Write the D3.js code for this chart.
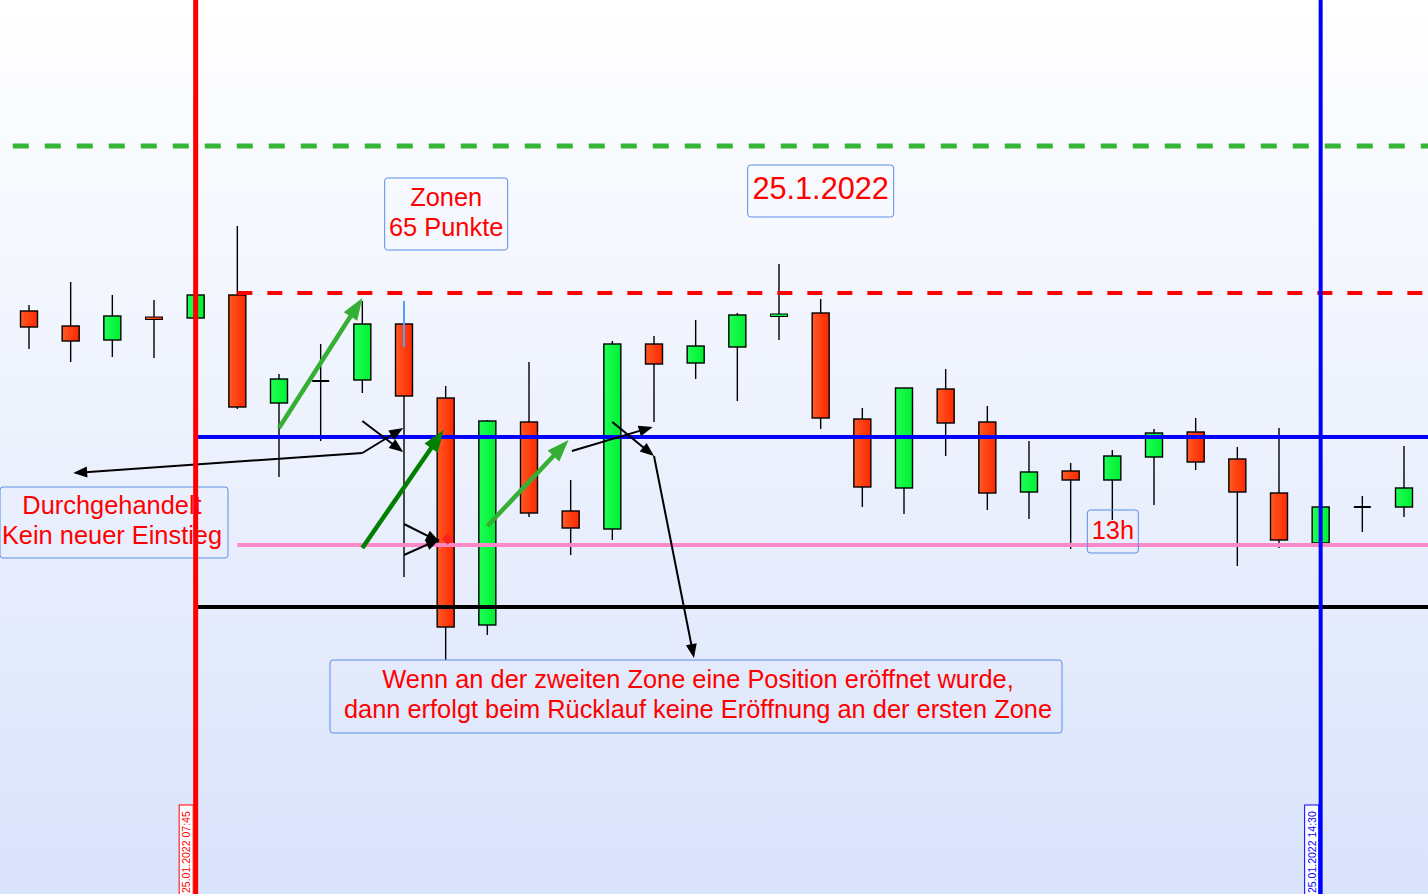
<!DOCTYPE html>
<html><head><meta charset="utf-8">
<script src="https://cdn.jsdelivr.net/npm/d3@7"></script>
<style>html,body{margin:0;padding:0;overflow:hidden;background:#fff}</style>
</head><body><svg id="c" width="1428" height="894"></svg>
<script>
// 15-minute candles, 25.01.2022
const times = ["06:45","07:00","07:15","07:30","07:45","08:00","08:15","08:30","08:45","09:00","09:15","09:30","09:45","10:00","10:15","10:30","10:45","11:00","11:15","11:30","11:45","12:00","12:15","12:30","12:45","13:00","13:15","13:30","13:45","14:00","14:15","14:30","14:45","15:00"];
const opens  = [583,568,554,577,576,599,491,513,514,570,496,269,472,383,365,550,531,547,578,581,475,406,505,472,402,423,414,437,462,435,401,351,387,387];
const highs  = [589,612,599,594,599,668,520,550,593,593,508,474,532,414,553,558,574,581,630,595,486,506,525,488,453,431,444,465,476,447,466,387,398,448];
const lows   = [545,532,537,536,576,485,417,453,501,317,234,259,377,339,354,472,515,493,554,465,387,380,438,384,375,345,374,389,424,328,346,351,362,377];
const closes = [567,553,578,575,599,487,515,513,570,498,267,473,381,366,550,530,548,579,580,476,407,506,471,401,422,414,438,461,432,402,354,387,387,406];

// horizontal levels
const levelNames  = ["Ziel","Zone oben","Zone 1","Zone 2","Zone 3"];
const levelValues = [748, 601, 457, 349, 287];
// vertical time markers
const markerTimes  = ["07:45","14:30"];
const markerLabels = ["25.01.2022 07:45","25.01.2022 14:30"];

const W = 1428, H = 894;
const svg = d3.select("#c");
const x = d3.scaleLinear().domain([0, times.length - 1]).range([29, 1404]);
const xt = t => x(times.indexOf(t));
const y = d3.scaleLinear().domain([0, 894]).range([894, 0]);

const defs = svg.append("defs");
const bg = defs.append("linearGradient").attr("id","bg").attr("x1",0).attr("y1",0).attr("x2",0).attr("y2",1);
bg.append("stop").attr("offset","0%").attr("stop-color","#ffffff");
bg.append("stop").attr("offset","100%").attr("stop-color","#d9e3fb");
const gr = defs.append("linearGradient").attr("id","gRed").attr("x1",0).attr("y1",0).attr("x2",1).attr("y2",0);
gr.append("stop").attr("offset","0%").attr("stop-color","#ff5a24");
gr.append("stop").attr("offset","100%").attr("stop-color","#ff2800");
const gg = defs.append("linearGradient").attr("id","gGreen").attr("x1",0).attr("y1",0).attr("x2",1).attr("y2",0);
gg.append("stop").attr("offset","0%").attr("stop-color","#1fff55");
gg.append("stop").attr("offset","100%").attr("stop-color","#00f032");

svg.append("rect").attr("width",W).attr("height",H).attr("fill","url(#bg)");

// candles
const data = times.map((t,i)=>({t,i,o:opens[i],h:highs[i],l:lows[i],c:closes[i]}));
const cw = 17;
const cg = svg.append("g");
cg.selectAll("line.wick").data(data).join("line")
  .attr("x1",d=>x(d.i)).attr("x2",d=>x(d.i))
  .attr("y1",d=>y(d.h)).attr("y2",d=>y(d.l))
  .attr("stroke","#000").attr("stroke-width",1.4);
cg.selectAll("rect.body").data(data.filter(d=>d.o!==d.c)).join("rect")
  .attr("x",d=>x(d.i)-cw/2).attr("width",cw)
  .attr("y",d=>y(Math.max(d.o,d.c))).attr("height",d=>Math.max(2.5,Math.abs(y(d.o)-y(d.c))))
  .attr("fill",d=>d.c>d.o?"url(#gGreen)":"url(#gRed)")
  .attr("stroke","#000").attr("stroke-width",d=>Math.abs(d.o-d.c)<4?1:1.4);
cg.selectAll("line.doji").data(data.filter(d=>d.o===d.c)).join("line")
  .attr("x1",d=>x(d.i)-cw/2).attr("x2",d=>x(d.i)+cw/2)
  .attr("y1",d=>y(d.o)).attr("y2",d=>y(d.o))
  .attr("stroke","#000").attr("stroke-width",2);
// blue marker on candle 09:00 upper wick
svg.append("line").attr("x1",xt("09:00")).attr("x2",xt("09:00"))
  .attr("y1",y(593)).attr("y2",y(547)).attr("stroke","#5a9cf8").attr("stroke-width",2);

// horizontal levels
const levelStyle = [
  {from:-0.39, color:"#35b535", w:5, dash:"16,16"},
  {from:5, color:"#ff0000", w:4, dash:"15,15"},
  {from:4, color:"#0000ff", w:4, dash:null},
  {from:5, color:"#ff88c8", w:4, dash:null},
  {from:4, color:"#000000", w:4, dash:null}
];
levelValues.forEach((v,k)=>{
  const s = levelStyle[k];
  svg.append("line").attr("x1",x(s.from)).attr("x2",W)
    .attr("y1",y(v)).attr("y2",y(v))
    .attr("stroke",s.color).attr("stroke-width",s.w)
    .attr("stroke-dasharray",s.dash);
});

// arrows
function arrow(p0,p1,color,w,hl,hw){
  const X0=x(p0[0]),Y0=y(p0[1]),X1=x(p1[0]),Y1=y(p1[1]);
  const dx=X1-X0,dy=Y1-Y0,L=Math.hypot(dx,dy),ux=dx/L,uy=dy/L;
  const bx=X1-ux*hl,by=Y1-uy*hl;
  svg.append("line").attr("x1",X0).attr("y1",Y0).attr("x2",bx+ux*2).attr("y2",by+uy*2)
    .attr("stroke",color).attr("stroke-width",w);
  svg.append("polygon").attr("points",[[X1,Y1],[bx-uy*hw/2,by+ux*hw/2],[bx+uy*hw/2,by-ux*hw/2]].map(p=>p.join(",")).join(" "))
    .attr("fill",color);
}
arrow([6,466],[8,596],"#35b035",4.5,22,16);
arrow([8,346],[9.95,464],"#008000",4.5,22,16);
arrow([11,368],[12.95,454],"#35b035",4.5,22,16);
arrow([13.03,443],[14.97,467],"#000",2,14,11);
arrow([14,472],[15,438],"#000",2,14,11);
arrow([15,438],[15.96,236],"#000",2,14,11);
arrow([8,473],[8.98,442],"#000",2,14,11);
arrow([8,441],[8.98,466],"#000",2,14,11);
arrow([8,441],[1.06,421],"#000",2,14,11);
arrow([9,370],[9.86,352],"#000",2,14,11);
arrow([9,339],[9.86,355],"#000",2,14,11);
svg.append("rect").attr("x",x(10)-2).attr("y",y(354)-5).attr("width",8).attr("height",8)
  .attr("transform",`rotate(45,${x(10)+2},${y(354)-1})`).attr("fill","#ff2020");

// text boxes
const font = "'Liberation Sans', Arial, sans-serif";
function box(cx, top, w, h, lines, size, baselines, anchorX){
  svg.append("rect").attr("x",cx-w/2).attr("y",top).attr("width",w).attr("height",h)
    .attr("rx",3).attr("fill","none").attr("stroke","#5b8ee6").attr("stroke-width",1);
  lines.forEach((s,k)=>{
    svg.append("text").attr("x",anchorX!==undefined?anchorX:cx).attr("y",baselines[k])
      .attr("text-anchor","middle").attr("font-family",font).attr("font-size",size)
      .attr("fill","#ff0000").text(s);
  });
}
box(x(10)+0.5, 178, 123, 72, ["Zonen","65 Punkte"], 25.4, [206,236]);
box(x(19), 165, 146, 52, ["25.1.2022"], 30.7, [199]);
box(114, 487, 228, 71, ["Durchgehandelt","Kein neuer Einstieg"], 25.4, [514,544], 112);
box(x(26)+0.5, 510, 51, 43, ["13h"], 25.4, [539]);
box(696, 660, 732, 73, ["Wenn an der zweiten Zone eine Position eröffnet wurde,","dann erfolgt beim Rücklauf keine Eröffnung an der ersten Zone"], 25.4, [688,718], 698);

// vertical markers
const mColors = ["#ff0000","#0000ff"];
const mWidths = [5,4];
markerTimes.forEach((t,k)=>{
  const X = xt(t);
  svg.append("line").attr("x1",X).attr("x2",X).attr("y1",0).attr("y2",H)
    .attr("stroke",mColors[k]).attr("stroke-width",mWidths[k]);
  const bx = X - mWidths[k]/2 - 14;
  svg.append("rect").attr("x",bx).attr("y",805).attr("width",14).attr("height",H-805+2)
    .attr("fill","#ffffff").attr("stroke",mColors[k]).attr("stroke-width",1);
  svg.append("text").attr("transform",`translate(${bx+11},${H-1}) rotate(-90)`)
    .attr("font-family",font).attr("font-size",10.5).attr("fill",mColors[k])
    .text(markerLabels[k]);
});
</script></body></html>
